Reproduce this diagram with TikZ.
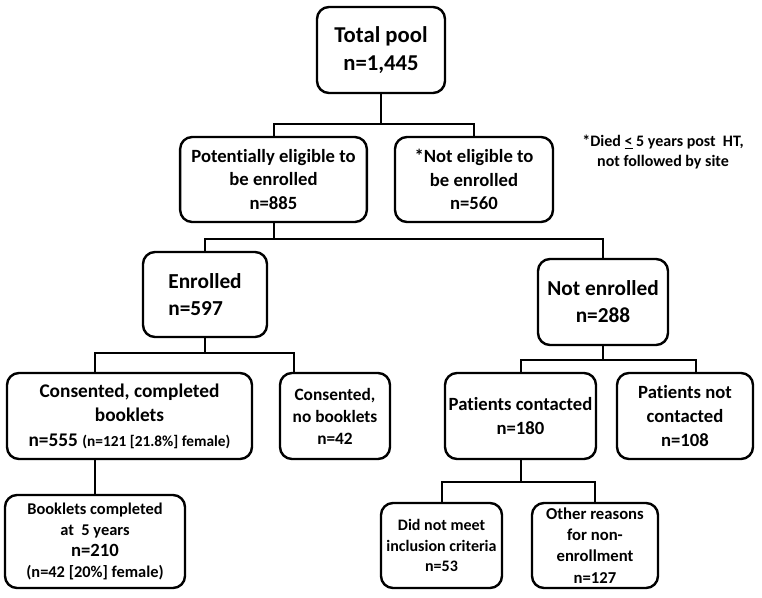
\documentclass[tikz,border=0pt]{standalone}
\usepackage{fontspec}
\setmainfont{Carlito}[Ligatures=NoCommon]
\usetikzlibrary{calc}
\newcommand{\fs}[1]{\fontsize{#1}{1.27\dimexpr#1\relax}\selectfont}

\begin{document}
\begin{tikzpicture}[x=0.75pt,y=-0.75pt,font=\bfseries,
  box/.style={draw,line width=1.8pt,rounded corners=9pt,align=center,inner sep=0pt},
  link/.style={line width=1.5pt}]

\useasboundingbox (0,0) rectangle (762,597);

\node[box,minimum width=96pt,minimum height=64.5pt,font=\bfseries\fs{17pt}] (pool) at (381,50) {Total pool\\n=1,445};

\node[box,minimum width=140pt,minimum height=63.75pt,font=\bfseries\fs{14pt}] (elig) at (273.5,179.5) {Potentially eligible to\\be enrolled\\n=885};
\node[box,minimum width=118.5pt,minimum height=63.75pt,font=\bfseries\fs{14pt}] (nelig) at (474,179.5) {*Not eligible to\\be enrolled\\n=560};
\node[align=center,font=\bfseries\fs{12pt}] (note) at (663,152) {*Died \underline{<} 5 years post\ \ HT,\\not followed by site};

\node[box,minimum width=93pt,minimum height=63.75pt,align=left,font=\bfseries\fs{16pt}] (enr) at (205,294.5) {Enrolled\\n=597};
\node[box,minimum width=97.5pt,minimum height=64.5pt,font=\bfseries\fs{16pt}] (nenr) at (603,302) {Not enrolled\\n=288};

\node[box,minimum width=183.75pt,minimum height=64.5pt,font=\bfseries\fs{14.5pt}] (cons) at (129.5,416) {Consented, completed\\booklets\\n=555 {\fs{11.5pt}(n=121 [21.8\%] female)}};
\node[box,minimum width=82.5pt,minimum height=64.5pt,font=\bfseries\fs{13pt}] (cnob) at (335,416) {Consented,\\no booklets\\n=42};
\node[box,minimum width=113.25pt,minimum height=64.5pt,font=\bfseries\fs{14pt}] (pcon) at (520.5,416) {Patients contacted\\n=180};
\node[box,minimum width=102pt,minimum height=64.5pt,font=\bfseries\fs{14pt}] (pnot) at (685,416) {Patients not\\contacted\\n=108};

\node[box,minimum width=135pt,minimum height=69.75pt,font=\bfseries\fs{12.3pt}] (book) at (95,541.5) {Booklets completed\\at\ \ 5 years\\{\fs{14pt}n=210}\\(n=42 [20\%] female)};
\node[box,minimum width=90.75pt,minimum height=63.75pt,font=\bfseries\fs{12pt}] (dnm) at (441.5,545.5) {Did not meet\\inclusion criteria\\n=53};
\node[box,minimum width=94.5pt,minimum height=63.75pt,font=\bfseries\fs{12.5pt}] (oth) at (595,545.5) {Other reasons\\for non-\\enrollment\\n=127};

\coordinate (cons-in) at (95,373);
\coordinate (cnob-in) at (294,373);
\coordinate (pnot-in) at (696,373);

\draw[link] (pool.south) -- ++(0,30) -| (elig.north);
\draw[link] (pool.south) -- ++(0,30) -| (nelig.north);

\draw[link] (elig.south) -- ++(0,16) -| (enr.north);
\draw[link] (elig.south) -- ++(0,16) -| (nenr.north);

\draw[link] (enr.south) -- ++(0,15) -| (cons-in);
\draw[link] (enr.south) -- ++(0,15) -| (cnob-in);
\draw[link] (cons.south -| book.north) -- (book.north);

\draw[link] (nenr.south) -- ++(0,14) -| (pcon.north);
\draw[link] (nenr.south) -- ++(0,14) -| (pnot-in);

\draw[link] (pcon.south) -- ++(0,22) -| (dnm.north);
\draw[link] (pcon.south) -- ++(0,22) -| (oth.north);

\end{tikzpicture}
\end{document}
